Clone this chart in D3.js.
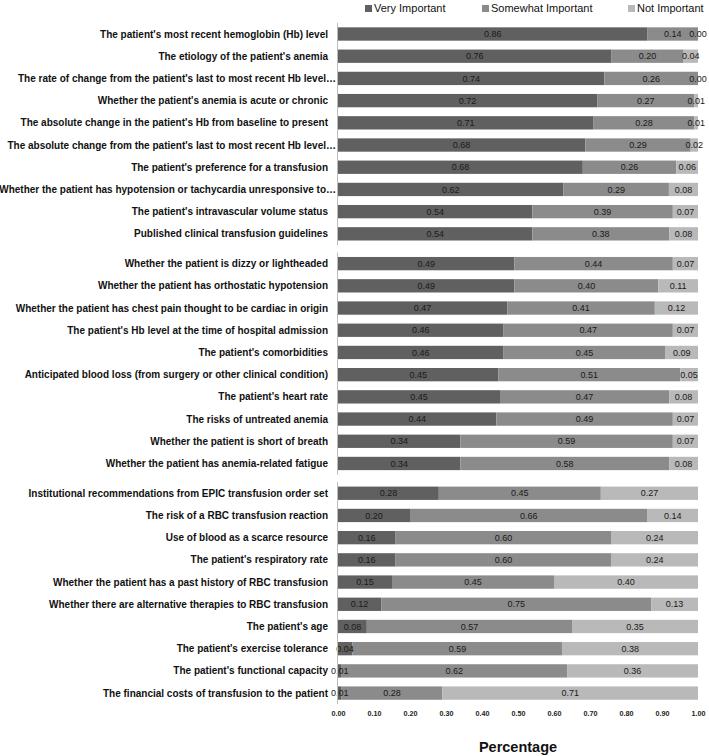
<!DOCTYPE html>
<html>
<head>
<meta charset="utf-8">
<script src="https://cdn.jsdelivr.net/npm/d3@7"></script>
<style>
  html, body { margin: 0; padding: 0; background: #fff; }
  svg { display: block; font-family: "Liberation Sans", Arial, sans-serif; }
</style>
</head>
<body>
<svg id="chart" width="709" height="756"></svg>
<script>
const seriesNames = ["Very Important", "Somewhat Important", "Not Important"];

const group1Labels = [
  "The patient's most recent hemoglobin (Hb) level",
  "The etiology of the patient's anemia",
  "The rate of change from the patient's last to most recent Hb level…",
  "Whether the patient's anemia is acute or chronic",
  "The absolute change in the patient's Hb from baseline to present",
  "The absolute change from the patient's last to most recent Hb level…",
  "The patient's preference for a transfusion",
  "Whether the patient has hypotension or tachycardia unresponsive to…",
  "The patient's intravascular volume status",
  "Published clinical transfusion guidelines"
];
const group1Very     = [0.86, 0.76, 0.74, 0.72, 0.71, 0.68, 0.68, 0.62, 0.54, 0.54];
const group1Somewhat = [0.14, 0.20, 0.26, 0.27, 0.28, 0.29, 0.26, 0.29, 0.39, 0.38];
const group1Not      = [0.00, 0.04, 0.00, 0.01, 0.01, 0.02, 0.06, 0.08, 0.07, 0.08];

const group2Labels = [
  "Whether the patient is dizzy or lightheaded",
  "Whether the patient has orthostatic hypotension",
  "Whether the patient has chest pain thought to be cardiac in origin",
  "The patient's Hb level at the time of hospital admission",
  "The patient's comorbidities",
  "Anticipated blood loss (from surgery or other clinical condition)",
  "The patient's heart rate",
  "The risks of untreated anemia",
  "Whether the patient is short of breath",
  "Whether the patient has anemia-related fatigue"
];
const group2Very     = [0.49, 0.49, 0.47, 0.46, 0.46, 0.45, 0.45, 0.44, 0.34, 0.34];
const group2Somewhat = [0.44, 0.40, 0.41, 0.47, 0.45, 0.51, 0.47, 0.49, 0.59, 0.58];
const group2Not      = [0.07, 0.11, 0.12, 0.07, 0.09, 0.05, 0.08, 0.07, 0.07, 0.08];

const group3Labels = [
  "Institutional recommendations from EPIC transfusion order set",
  "The risk of a RBC transfusion reaction",
  "Use of blood as a scarce resource",
  "The patient's respiratory rate",
  "Whether the patient has a past history of RBC transfusion",
  "Whether there are alternative therapies to RBC transfusion",
  "The patient's age",
  "The patient's exercise tolerance",
  "The patient's functional capacity",
  "The financial costs of transfusion to the patient"
];
const group3Very     = [0.28, 0.20, 0.16, 0.16, 0.15, 0.12, 0.08, 0.04, 0.01, 0.01];
const group3Somewhat = [0.45, 0.66, 0.60, 0.60, 0.45, 0.75, 0.57, 0.59, 0.62, 0.28];
const group3Not      = [0.27, 0.14, 0.24, 0.24, 0.40, 0.13, 0.35, 0.38, 0.36, 0.71];

const xTicks = [0, 0.1, 0.2, 0.3, 0.4, 0.5, 0.6, 0.7, 0.8, 0.9, 1.0];
const xTitle = "Percentage";

const groups = [
  { labels: group1Labels, vals: [group1Very, group1Somewhat, group1Not] },
  { labels: group2Labels, vals: [group2Very, group2Somewhat, group2Not] },
  { labels: group3Labels, vals: [group3Very, group3Somewhat, group3Not] }
];

const colors = ["#606060", "#8b8b8b", "#b9b9b9"];

const svg = d3.select("#chart");
const x = d3.scaleLinear().domain([0, 1]).range([338, 698]);
const gy = d3.scaleBand().domain([0, 1, 2]).range([22.9, 704.2]).paddingInner(0.033);

groups.forEach((g, gi) => {
  const rows = g.labels.map((lab, i) => {
    const r = { label: lab };
    seriesNames.forEach((s, si) => r[s] = g.vals[si][i]);
    return r;
  });
  const y = d3.scaleBand().domain(g.labels)
    .range([gy(gi), gy(gi) + gy.bandwidth()]).paddingInner(0.4).paddingOuter(0.2);
  const stack = d3.stack().keys(seriesNames).offset(d3.stackOffsetExpand)(rows);

  const gg = svg.append("g");
  const barG = gg.append("g");
  const valG = gg.append("g");
  stack.forEach((layer, si) => {
    barG.selectAll(null).data(layer).enter().append("rect")
      .attr("x", d => x(d[0]))
      .attr("y", d => y(d.data.label))
      .attr("width", d => Math.max(0, x(d[1]) - x(d[0])))
      .attr("height", y.bandwidth())
      .attr("fill", colors[si]);
    valG.selectAll(null).data(layer).enter().append("text")
      .attr("x", d => (x(d[0]) + x(d[1])) / 2)
      .attr("y", d => y(d.data.label) + y.bandwidth() / 2)
      .attr("dy", "0.35em")
      .attr("text-anchor", "middle")
      .attr("font-size", "9px")
      .attr("fill", "#1a1a1a")
      .text(d => d3.format(".2f")(d.data[layer.key]));
  });

  // category labels
  gg.selectAll(null).data(g.labels).enter().append("text")
    .attr("x", d => d.endsWith("…") ? 336 : 328)
    .attr("y", d => y(d) + y.bandwidth() / 2)
    .attr("dy", "0.35em")
    .attr("text-anchor", "end")
    .attr("font-size", "10px")
    .attr("font-weight", "bold")
    .attr("fill", "#111")
    .text(d => d);

  // axis line
  gg.append("line")
    .attr("x1", x(0) - 0.5).attr("x2", x(0) - 0.5)
    .attr("y1", gy(gi)).attr("y2", gy(gi) + gy.bandwidth())
    .attr("stroke", "#bdbdbd").attr("stroke-width", 1);
});

// x axis
const axis = d3.axisBottom(x).tickValues(xTicks).tickFormat(d3.format(".2f")).tickSize(0).tickPadding(0);
const ax = svg.append("g").attr("transform", `translate(0, ${gy(2) + gy.bandwidth() + 7})`).call(axis);
ax.select(".domain").remove();
ax.selectAll("text").attr("font-size", "7.2px").attr("font-weight", "bold").attr("fill", "#222")
  .attr("font-family", "Liberation Sans, Arial, sans-serif");

svg.append("text")
  .attr("x", (x(0) + x(1)) / 2)
  .attr("y", 752)
  .attr("text-anchor", "middle")
  .attr("font-size", "14.5px")
  .attr("font-weight", "bold")
  .attr("fill", "#111")
  .text(xTitle);

// legend
const legendX = [365, 482, 628];
const lg = svg.append("g");
seriesNames.forEach((s, i) => {
  lg.append("rect").attr("x", legendX[i]).attr("y", 5).attr("width", 7).attr("height", 7).attr("fill", colors[i]);
  lg.append("text").attr("x", legendX[i] + 9).attr("y", 8.5).attr("dy", "0.35em")
    .attr("font-size", "11px").attr("fill", "#111").text(s);
});
</script>
</body>
</html>
